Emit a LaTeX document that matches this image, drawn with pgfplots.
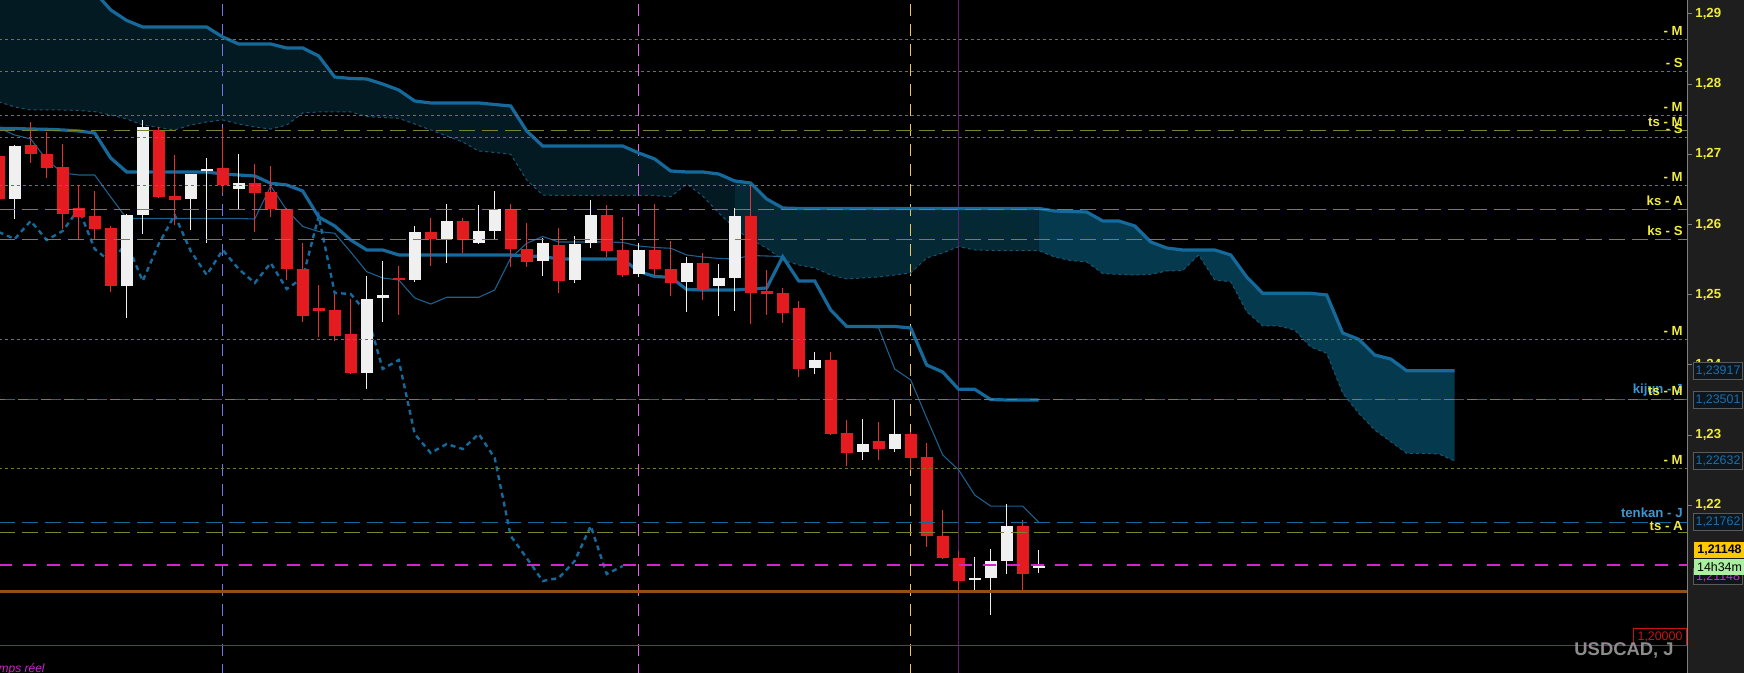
\documentclass[border=0pt]{standalone}
\usepackage{pgfplots}
\pgfplotsset{compat=1.18}
\usepackage{pgfplotstable}
\usepgfplotslibrary{fillbetween}
\usepackage{fontspec}
\setmainfont{Liberation Sans}

\definecolor{panel}{RGB}{30,30,30}
\definecolor{lab}{RGB}{240,235,60}
\definecolor{labblue}{RGB}{60,150,210}
\definecolor{ichi}{RGB}{22,105,155}
\definecolor{ichithin}{RGB}{30,95,140}
\definecolor{ssacol}{RGB}{25,85,115}
\definecolor{cloudA}{RGB}{4,26,34}
\definecolor{cloudB}{RGB}{5,40,53}
\definecolor{cloudC}{RGB}{5,58,78}
\definecolor{lvlS}{RGB}{115,120,45}
\definecolor{lvlL}{RGB}{125,130,45}
\definecolor{candR}{RGB}{228,28,32}
\definecolor{wickR}{RGB}{225,50,50}
\definecolor{candW}{RGB}{240,240,240}
\definecolor{mag}{RGB}{215,35,205}
\definecolor{brn}{RGB}{145,80,20}
\definecolor{redl}{RGB}{200,20,20}
\definecolor{vblue}{RGB}{110,120,235}
\definecolor{vmag}{RGB}{225,100,225}
\definecolor{vyel}{RGB}{240,200,90}
\definecolor{vpur}{RGB}{95,30,115}
\definecolor{boxgray}{RGB}{90,90,90}
\definecolor{boxbg}{RGB}{12,22,28}
\definecolor{boxblue}{RGB}{30,110,170}

\newcommand\lblfont{\fontsize{6.6}{7}\selectfont\bfseries}
\newcommand\boxfont{\fontsize{6.2}{7}\selectfont}

\pgfplotstableread{
k o h l c
0 1.26977 1.27062 1.26307 1.26364
2 1.27134 1.27461 1.26877 1.27005
3 1.27005 1.27319 1.26663 1.26806
4 1.26820 1.27148 1.25937 1.26151
5 1.26236 1.26564 1.25794 1.26108
6 1.26122 1.26478 1.25794 1.25937
7 1.25951 1.25980 1.25040 1.25125
10 1.27347 1.27390 1.26380 1.26393
11 1.26407 1.26991 1.25994 1.26350
14 1.26806 1.27376 1.26450 1.26564
16 1.26592 1.26863 1.25894 1.26450
17 1.26464 1.26834 1.26108 1.26222
18 1.26222 1.26236 1.25210 1.25367
19 1.25367 1.25738 1.24612 1.24698
20 1.24812 1.25139 1.24398 1.24769
21 1.24783 1.25011 1.24342 1.24413
22 1.24441 1.24940 1.23871 1.23886
25 1.25239 1.25410 1.24712 1.25210
27 1.25894 1.26094 1.25410 1.25794
29 1.26051 1.26094 1.25595 1.25780
32 1.26222 1.26293 1.25396 1.25652
33 1.25652 1.26022 1.25396 1.25467
35 1.25709 1.25951 1.25025 1.25196
38 1.26136 1.26279 1.25538 1.25623
39 1.25638 1.26108 1.25253 1.25282
41 1.25638 1.26293 1.25267 1.25367
42 1.25367 1.25766 1.24983 1.25168
44 1.25453 1.25595 1.24926 1.25082
47 1.26122 1.26564 1.24584 1.25025
48 1.25054 1.25353 1.24712 1.25011
49 1.25025 1.25096 1.24598 1.24740
50 1.24812 1.24911 1.23829 1.23943
52 1.24071 1.24185 1.23002 1.23017
53 1.23031 1.23216 1.22561 1.22746
55 1.22917 1.23188 1.22646 1.22803
57 1.23017 1.23045 1.22504 1.22675
58 1.22689 1.22889 1.21407 1.21564
59 1.21564 1.21934 1.21236 1.21250
60 1.21250 1.21350 1.20780 1.20923
64 1.21706 1.21792 1.20794 1.21022
}\redc

\pgfplotstableread{
k o h l c
1 1.26364 1.27134 1.26079 1.27119
8 1.25125 1.26151 1.24669 1.26136
9 1.26136 1.27490 1.25866 1.27390
12 1.26364 1.26720 1.25923 1.26720
13 1.26763 1.26948 1.25738 1.26792
15 1.26507 1.27005 1.26208 1.26592
23 1.23886 1.25267 1.23658 1.24940
24 1.24954 1.25481 1.24612 1.24997
26 1.25210 1.25980 1.25182 1.25894
28 1.25794 1.26293 1.25453 1.26051
30 1.25738 1.26279 1.25720 1.25908
31 1.25908 1.26478 1.25794 1.26222
34 1.25481 1.25809 1.25267 1.25738
36 1.25210 1.25837 1.25168 1.25723
37 1.25738 1.26350 1.25666 1.26136
40 1.25296 1.25738 1.25253 1.25638
43 1.25182 1.25538 1.24755 1.25453
45 1.25125 1.25438 1.24698 1.25239
46 1.25239 1.26236 1.24769 1.26122
51 1.23957 1.24185 1.23871 1.24071
54 1.22760 1.23230 1.22646 1.22874
56 1.22803 1.23515 1.22760 1.23017
61 1.20937 1.21265 1.20794 1.20965
62 1.20965 1.21379 1.20438 1.21208
63 1.21208 1.22020 1.21022 1.21706
65 1.21108 1.21364 1.21037 1.21136
}\whitec

\pgfplotstableread{
k tenkan kijun
0 1.27376 1.27371
1 1.27276 1.27368
2 1.27219 1.27361
3 1.26920 1.27357
4 1.26735 1.27347
5 1.26706 1.27333
6 1.26706 1.27304
7 1.26393 1.26948
8 1.26086 1.26749
9 1.26086 1.26749
10 1.26086 1.26749
11 1.26086 1.26749
12 1.26086 1.26749
13 1.26086 1.26749
14 1.26086 1.26720
15 1.26086 1.26706
16 1.26079 1.26692
17 1.26549 1.26588
18 1.26208 1.26564
19 1.25973 1.26478
20 1.25901 1.26108
21 1.25876 1.25980
22 1.25609 1.25780
23 1.25329 1.25638
24 1.25239 1.25638
25 1.25210 1.25567
26 1.24954 1.25567
27 1.24868 1.25567
28 1.24964 1.25567
29 1.24964 1.25567
30 1.24964 1.25567
31 1.25068 1.25567
32 1.25524 1.25567
33 1.25733 1.25552
34 1.25830 1.25545
35 1.25752 1.25510
36 1.25752 1.25510
37 1.25752 1.25510
38 1.25752 1.25510
39 1.25745 1.25510
40 1.25695 1.25331
41 1.25673 1.25260
42 1.25662 1.25249
43 1.25567 1.25075
44 1.25538 1.25068
45 1.25517 1.25068
46 1.25510 1.25068
47 1.25559 1.25082
48 1.25552 1.25096
49 1.25545 1.25542
50 1.25196 1.25196
51 1.25196 1.25196
52 1.24783 1.24783
53 1.24548 1.24548
54 1.24548 1.24548
55 1.24527 1.24548
56 1.23943 1.24548
57 1.23786 1.24527
58 1.23245 1.23999
59 1.22718 1.23900
60 1.22503 1.23653
61 1.22147 1.23653
62 1.21990 1.23508
63 1.21990 1.23501
64 1.21990 1.23501
65 1.21762 1.23501
}\tk

\pgfplotstableread{
k ssa ssb
0 1.27750 1.29769
1 1.27675 1.29769
2 1.27632 1.29769
3 1.27632 1.29769
4 1.27632 1.29769
5 1.27625 1.29769
6 1.27608 1.29313
7 1.27561 1.29057
8 1.27504 1.28907
9 1.27418 1.28814
10 1.27383 1.28814
11 1.27347 1.28814
12 1.27418 1.28814
13 1.27461 1.28814
14 1.27490 1.28672
15 1.27433 1.28572
16 1.27390 1.28572
17 1.27361 1.28572
18 1.27418 1.28515
19 1.27589 1.28515
20 1.27604 1.28401
21 1.27604 1.28102
22 1.27604 1.28081
23 1.27537 1.28074
24 1.27525 1.28002
25 1.27514 1.27917
26 1.27433 1.27760
27 1.27347 1.27732
28 1.27262 1.27732
29 1.27176 1.27732
30 1.27048 1.27732
31 1.27027 1.27710
32 1.27001 1.27689
33 1.26635 1.27333
34 1.26421 1.27119
35 1.26414 1.27119
36 1.26414 1.27119
37 1.26414 1.27119
38 1.26414 1.27119
39 1.26414 1.27119
40 1.26414 1.27020
41 1.26414 1.26934
42 1.26397 1.26763
43 1.26578 1.26749
44 1.26407 1.26749
45 1.26165 1.26720
46 1.25951 1.26621
47 1.25780 1.26592
48 1.25666 1.26364
49 1.25495 1.26236
50 1.25424 1.26229
51 1.25381 1.26229
52 1.25282 1.26229
53 1.25225 1.26229
54 1.25239 1.26229
55 1.25253 1.26229
56 1.25282 1.26229
57 1.25310 1.26229
58 1.25524 1.26229
59 1.25595 1.26229
60 1.25685 1.26229
61 1.25638 1.26229
62 1.25631 1.26229
63 1.25628 1.26229
64 1.25628 1.26229
65 1.25628 1.26229
66 1.25538 1.26193
67 1.25488 1.26186
68 1.25467 1.26179
69 1.25303 1.26051
70 1.25289 1.26051
71 1.25281 1.25980
72 1.25291 1.25752
73 1.25339 1.25666
74 1.25346 1.25638
75 1.25567 1.25638
76 1.25210 1.25638
77 1.25186 1.25567
78 1.24759 1.25253
79 1.24555 1.25021
80 1.24555 1.25021
81 1.24498 1.25021
82 1.24256 1.25021
83 1.24166 1.24997
84 1.23597 1.24455
85 1.23312 1.24366
86 1.23074 1.24142
87 1.22907 1.24085
88 1.22742 1.23917
89 1.22739 1.23917
90 1.22732 1.23917
91 1.22632 1.23917
}\cloud

\pgfplotstableread{
j c
0 1.25894
1 1.25794
2 1.26051
3 1.25780
4 1.25908
5 1.26222
6 1.25652
7 1.25467
8 1.25738
9 1.25196
10 1.25723
11 1.26136
12 1.25623
13 1.25282
14 1.25638
15 1.25367
16 1.25168
17 1.25453
18 1.25082
19 1.25239
20 1.26122
21 1.25025
22 1.25011
23 1.24740
24 1.23943
25 1.24071
26 1.23017
27 1.22746
28 1.22874
29 1.22803
30 1.23017
31 1.22675
32 1.21564
33 1.21250
34 1.20923
35 1.20965
36 1.21208
37 1.21706
38 1.21022
39 1.21136
}\chikou

\tikzset{
  lvS/.style={lvlS, line width=0.5pt, dash pattern=on 1.5pt off 1.5pt},
  lvL/.style={lvlL, line width=0.5pt, dash pattern=on 8pt off 3.5pt},
  vln/.style={line width=0.5pt, dash pattern=on 6pt off 4pt},
  lv/.style={anchor=south east, inner sep=0pt, font=\lblfont, text=lab, yshift=1.8pt},
  pbox/.style={anchor=west, draw=boxgray, fill=boxbg, line width=0.5pt, inner sep=0pt,
    minimum width=24.5pt, minimum height=8.3pt, font=\boxfont, text=boxblue, xshift=3pt}
}

\begin{document}%
\pagecolor{panel}%
\begin{tikzpicture}
\begin{axis}[
  set layers,
  axis background/.style={fill=black},
  at={(0,0)}, anchor=south west, scale only axis,
  width=843.5pt, height=336.5pt,
  xmin=0.08125, xmax=105.52, ymin=1.19612, ymax=1.29199,
  axis x line=none, axis y line*=right,
  y axis line style={draw=gray, line width=0.5pt},
  ytick={1.22,1.23,1.24,1.25,1.26,1.27,1.28,1.29},
  yticklabels={{1,22},{1,23},{1,24},{1,25},{1,26},{1,27},{1,28},{1,29}},
  tick align=outside, major tick length=2.5pt,
  ytick style={draw=gray, line width=0.5pt},
  yticklabel style={font=\lblfont, text=lab, anchor=west, inner sep=0pt, xshift=1.5pt},
]
% cloud
\addplot[name path=ssb, draw=none, forget plot] table[x=k, y=ssb] {\cloud};
\addplot[name path=ssa, draw=none, forget plot] table[x=k, y=ssa] {\cloud};
\addplot[fill=cloudA, draw=none, forget plot] fill between[of=ssb and ssa, soft clip={domain=0:46}];
\addplot[fill=cloudB, draw=none, forget plot] fill between[of=ssb and ssa, soft clip={domain=46:65}];
\addplot[fill=cloudC, draw=none, forget plot] fill between[of=ssb and ssa, soft clip={domain=65:91}];

% vertical separators
\addplot[vln, vblue, forget plot] coordinates {(14,1.19) (14,1.30)};
\addplot[vln, vmag, forget plot] coordinates {(40,1.19) (40,1.30)};
\addplot[vln, vyel, forget plot] coordinates {(57,1.19) (57,1.30)};
\addplot[vpur, line width=0.5pt, forget plot] coordinates {(60,1.19) (60,1.30)};

% ichimoku lines
\addplot[ssacol, line width=0.5pt, dash pattern=on 1.5pt off 1.5pt, mark=none] table[x=k, y=ssa] {\cloud};
\addplot[ichi, line width=1.6pt, mark=none] table[x=k, y=ssb] {\cloud};
\addplot[ichithin, line width=0.55pt, mark=none] table[x=k, y=tenkan] {\tk};
\addplot[ichi, line width=1.6pt, mark=none] table[x=k, y=kijun] {\tk};
\addplot[ichi, line width=1.2pt, dash pattern=on 2.5pt off 2pt, mark=none] table[x=j, y=c] {\chikou};

% candles: wicks
\addplot[draw=none, mark=none, forget plot, error bars/.cd, y dir=minus, y explicit, error mark=none,
  error bar style={draw=wickR, line width=0.7pt, solid}]
  table[x=k, y=h, y error minus expr=\thisrow{h}-\thisrow{l}] {\redc};
\addplot[draw=none, mark=none, forget plot, error bars/.cd, y dir=minus, y explicit, error mark=none,
  error bar style={draw=candW, line width=0.7pt, solid}]
  table[x=k, y=h, y error minus expr=\thisrow{h}-\thisrow{l}] {\whitec};
% candles: bodies
\addplot[draw=none, mark=none, forget plot, error bars/.cd, y dir=minus, y explicit, error mark=none,
  error bar style={draw=candR, line width=5.8pt, solid}]
  table[x=k, y=o, y error minus expr=\thisrow{o}-\thisrow{c}] {\redc};
\addplot[draw=none, mark=none, forget plot, error bars/.cd, y dir=minus, y explicit, error mark=none,
  error bar style={draw=candW, line width=5.8pt, solid}]
  table[x=k, y=c, y error minus expr=\thisrow{c}-\thisrow{o}] {\whitec};

% horizontal levels
\addplot[lvS, forget plot] coordinates {(0,1.28643) (106,1.28643)};
\addplot[lvS, forget plot] coordinates {(0,1.28183) (106,1.28183)};
\addplot[lvS, forget plot] coordinates {(0,1.27557) (106,1.27557)};
\addplot[lvL, forget plot] coordinates {(0,1.27343) (106,1.27343)};
\addplot[lvS, forget plot] coordinates {(0,1.27243) (106,1.27243)};
\addplot[lvS, forget plot] coordinates {(0,1.26559) (106,1.26559)};
\addplot[lvL, forget plot] coordinates {(0,1.26218) (106,1.26218)};
\addplot[lvL, forget plot] coordinates {(0,1.25790) (106,1.25790)};
\addplot[lvS, forget plot] coordinates {(0,1.24356) (106,1.24356)};
\addplot[ichi, line width=0.5pt, dash pattern=on 8pt off 3.5pt, forget plot] coordinates {(0,1.23501) (106,1.23501)};
\addplot[lvlL, line width=0.5pt, dash pattern=on 5pt off 6.5pt, dash phase=2pt, forget plot] coordinates {(0,1.23501) (106,1.23501)};
\addplot[lvS, forget plot] coordinates {(0,1.22518) (106,1.22518)};
\addplot[ichi, line width=0.5pt, dash pattern=on 8pt off 3.5pt, forget plot] coordinates {(0,1.21762) (106,1.21762)};
\addplot[lvL, forget plot] coordinates {(0,1.21611) (106,1.21611)};
\addplot[mag, line width=0.75pt, dash pattern=on 6.5pt off 5.5pt, forget plot] coordinates {(0,1.21148) (106,1.21148)};
\addplot[brn, line width=1.5pt, forget plot] coordinates {(0,1.20770) (106,1.20770)};
\addplot[redl, line width=0.6pt, forget plot] coordinates {(0,1.20000) (106,1.20000)};

% anchor coordinates for annotations
\coordinate (L1) at (axis cs:105.27,1.28643);
\coordinate (L2) at (axis cs:105.27,1.28183);
\coordinate (L3) at (axis cs:105.27,1.27557);
\coordinate (L4) at (axis cs:105.27,1.27343);
\coordinate (L5) at (axis cs:105.27,1.27243);
\coordinate (L6) at (axis cs:105.27,1.26559);
\coordinate (L7) at (axis cs:105.27,1.26218);
\coordinate (L8) at (axis cs:105.27,1.25790);
\coordinate (L9) at (axis cs:105.27,1.24356);
\coordinate (L10) at (axis cs:105.27,1.23501);
\coordinate (L11) at (axis cs:105.27,1.22518);
\coordinate (L12) at (axis cs:105.27,1.21762);
\coordinate (L13) at (axis cs:105.27,1.21611);
\coordinate (B1) at (axis cs:105.52,1.23917);
\coordinate (B2) at (axis cs:105.52,1.23501);
\coordinate (B3) at (axis cs:105.52,1.22632);
\coordinate (B4) at (axis cs:105.52,1.21762);
\coordinate (B5) at (axis cs:105.52,1.21364);
\coordinate (B6) at (axis cs:105.52,1.21122);
\coordinate (B7) at (axis cs:105.52,1.20987);
\coordinate (B8) at (axis cs:105.52,1.20125);
\end{axis}

% level labels
\node[lv] at (L1) {- M};
\node[lv] at (L2) {- S};
\node[lv] at (L3) {- M};
\node[lv] at (L4) {ts - M};
\node[lv] at (L5) {- S};
\node[lv] at (L6) {- M};
\node[lv] at (L7) {ks - A};
\node[lv] at (L8) {ks - S};
\node[lv] at (L9) {- M};
\node[lv, text=labblue] at (L10) {kijun - J};
\node[lv] at (L10) {ts - M};
\node[lv] at (L11) {- M};
\node[lv, text=labblue] at (L12) {tenkan - J};
\node[lv, yshift=-1pt] at (L13) {ts - A};

% price boxes on the scale
\node[pbox] at (B1) {1,23917};
\node[pbox] at (B2) {1,23501};
\node[pbox] at (B3) {1,22632};
\node[pbox] at (B4) {1,21762};
\node[pbox, text=mag] at (B7) {1,21148};
\node[pbox, draw=none, fill={rgb,255:red,255;green,200;blue,0}, text=black, minimum width=26pt, font=\boxfont\bfseries] at (B5) {1,21148};
\node[pbox, draw=none, fill={rgb,255:red,170;green,240;blue,160}, text=black, minimum width=26pt] at (B6) {14h34m};
\node[anchor=east, draw=redl, fill=black, line width=0.5pt, inner sep=0pt, minimum width=26.5pt,
  minimum height=8.5pt, font=\boxfont, text=redl] at (B8) {1,20000};

% watermark and status text
\node[anchor=east, inner sep=0pt, font=\fontsize{9.2}{10}\selectfont\bfseries, text={rgb,255:red,140;green,140;blue,140}] at (837pt,11pt) {USDCAD, J};
\node[anchor=base east, inner sep=0pt, font=\fontsize{6}{7}\selectfont\itshape, text={rgb,255:red,200;green,40;blue,200}] at (22.5pt,0.2pt) {Temps réel};

\pgfresetboundingbox
\path[use as bounding box] (0,0) rectangle (872pt,336.5pt);
\end{tikzpicture}%
\end{document}
